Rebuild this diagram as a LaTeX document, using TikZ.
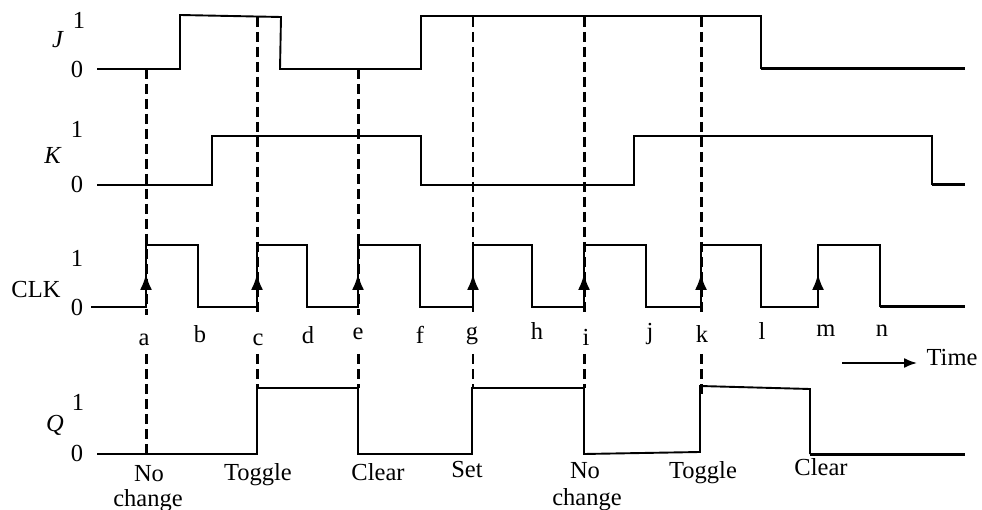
\documentclass[tikz,border=0pt]{standalone}
\usepackage{fontspec}
\setmainfont{Liberation Serif}
\usetikzlibrary{arrows.meta}
\begin{document}
\begin{tikzpicture}[x=1pt,y=-1pt,
  sig/.style={line width=1.9pt, line join=miter},
  sigend/.style={line width=3pt},
  guide/.style={line width=3pt, dash pattern=on 10pt off 5pt},
  thinguide/.style={line width=2pt, dash pattern=on 10pt off 5pt},
  edgearrow/.style={line width=2pt, -{Latex[length=16pt,width=12pt]}},
  lbl/.style={font=\fontsize{24.5}{28}\selectfont, inner sep=0pt},
  tick/.style={lbl, anchor=base},
]
\useasboundingbox (0,0) rectangle (982,510);

% ---------- signal names and levels ----------
\node[lbl] (nJ) at (58,40) {\textit{J}};
\node[lbl] (jone) at (79,20) {1};
\node[lbl] (jzero) at (77,69) {0};
\node[lbl] (nK) at (53,155) {\textit{K}};
\node[lbl] (kone) at (77,129) {1};
\node[lbl] (kzero) at (77,184) {0};
\node[lbl] (nC) at (36,290) {CLK};
\node[lbl] (cone) at (77,258) {1};
\node[lbl] (czero) at (77,307) {0};
\node[lbl] (nQ) at (55,425) {\textit{Q}};
\node[lbl] (qone) at (78,402) {1};
\node[lbl] (qzero) at (77,453) {0};

% ---------- waveforms ----------
\draw[sig] (97,69) -- (180,69) -- (180,15) -- (281,17) -- (280,69) -- (421,69)
  -- (421,16) -- (761,16) -- (761,69);
\draw[sigend] (761,69) -- (965,69);

\draw[sig] (97,185) -- (212,185) -- (212,136) -- (421,136) -- (421,185) -- (634,185)
  -- (634,136) -- (932,136) -- (932,185);
\draw[sigend] (932,185) -- (965,185);

\draw[sig] (91,307) -- (146,307) -- (146,245) -- (198,245) -- (198,307) -- (257,307)
  -- (257,245) -- (307,245) -- (307,307) -- (358,307) -- (358,245) -- (420,245)
  -- (420,307) -- (473,307) -- (473,245) -- (532,245) -- (532,307) -- (584,307)
  -- (584,245) -- (646,245) -- (646,307) -- (701,307) -- (701,245) -- (761,245)
  -- (761,307) -- (818,307) -- (818,245) -- (880,245) -- (880,307);
\draw[sigend] (880,307) -- (965,307);

\draw[sig] (97,454) -- (257,454) -- (257,388) -- (358,388) -- (358,454) -- (472,454)
  -- (472,388) -- (584,388) -- (584,454) -- (700,452) -- (700,386) -- (810,389)
  -- (810,454);
\draw[sigend] (810,454) -- (965,454);

% ---------- guide coordinates ----------
\coordinate (a1) at (146,69);  \coordinate (a2) at (146,315);
\coordinate (a3) at (146,354); \coordinate (a4) at (146,454);
\coordinate (c1) at (257,17);  \coordinate (c2) at (257,315);
\coordinate (c3) at (257,354); \coordinate (c4) at (257,388);
\coordinate (e1) at (358,69);  \coordinate (e2) at (358,315);
\coordinate (e3) at (358,354); \coordinate (e4) at (358,388);
\coordinate (g1) at (473,17);  \coordinate (g2) at (473,315);
\coordinate (g3) at (473,354); \coordinate (g4) at (473,388);
\coordinate (i1) at (584,17);  \coordinate (i2) at (584,315);
\coordinate (i3) at (584,354); \coordinate (i4) at (584,388);
\coordinate (k1) at (701,17);  \coordinate (k2) at (701,315);
\coordinate (k3) at (701,354); \coordinate (k4) at (701,398);

\draw[guide] (a1) -- (a2); \draw[guide] (a3) -- (a4);
\draw[guide] (c1) -- (c2); \draw[guide] (c3) -- (c4);
\draw[guide] (e1) -- (e2); \draw[guide] (e3) -- (e4);
\draw[thinguide] (g1) -- (g2); \draw[thinguide] (g3) -- (g4);
\draw[guide] (i1) -- (i2); \draw[guide] (i3) -- (i4);
\draw[guide] (k1) -- (k2); \draw[guide] (k3) -- (k4);

% ---------- rising-edge arrows ----------
\foreach \x/\n in {146/a,257/c,358/e,473/g,584/i,701/k,818/m}{
  \coordinate (s\n) at (\x,307);
  \coordinate (t\n) at (\x,274);
  \draw[edgearrow] (s\n) -- (t\n);
}

% ---------- time labels ----------
\node[tick] (la) at (144,345) {a};
\node[tick] (lb) at (200,342) {b};
\node[tick] (lc) at (258,345) {c};
\node[tick] (ld) at (308,344) {d};
\node[tick] (le) at (358,340) {e};
\node[tick] (lf) at (420,344) {f};
\node[tick] (lg) at (472,340) {g};
\node[tick] (lh) at (537,340) {h};
\node[tick] (li) at (586,345) {i};
\node[tick] (lj) at (650,340) {j};
\node[tick] (lk) at (702,343) {k};
\node[tick] (ll) at (762,340) {l};
\node[tick] (lm) at (826,337) {m};
\node[tick] (ln) at (882,337) {n};

% ---------- time arrow ----------
\node[tick] (time) at (952,365) {Time};
\coordinate (tstart) at (842,363);
\coordinate (tend) at (917,363);
\draw[line width=1.8pt, -{Latex[length=13pt,width=10pt]}] (tstart) -- (tend);

% ---------- Q event labels ----------
\node[tick] (ev1a) at (149,481) {No};
\node[tick] (ev1b) at (148,506) {change};
\node[tick] (ev2) at (258,480) {Toggle};
\node[tick] (ev3) at (378,480) {Clear};
\node[tick] (ev4) at (467,477) {Set};
\node[tick] (ev5a) at (585,478) {No};
\node[tick] (ev5b) at (587,505) {change};
\node[tick] (ev6) at (703,478) {Toggle};
\node[tick] (ev7) at (821,475) {Clear};
\end{tikzpicture}
\end{document}
